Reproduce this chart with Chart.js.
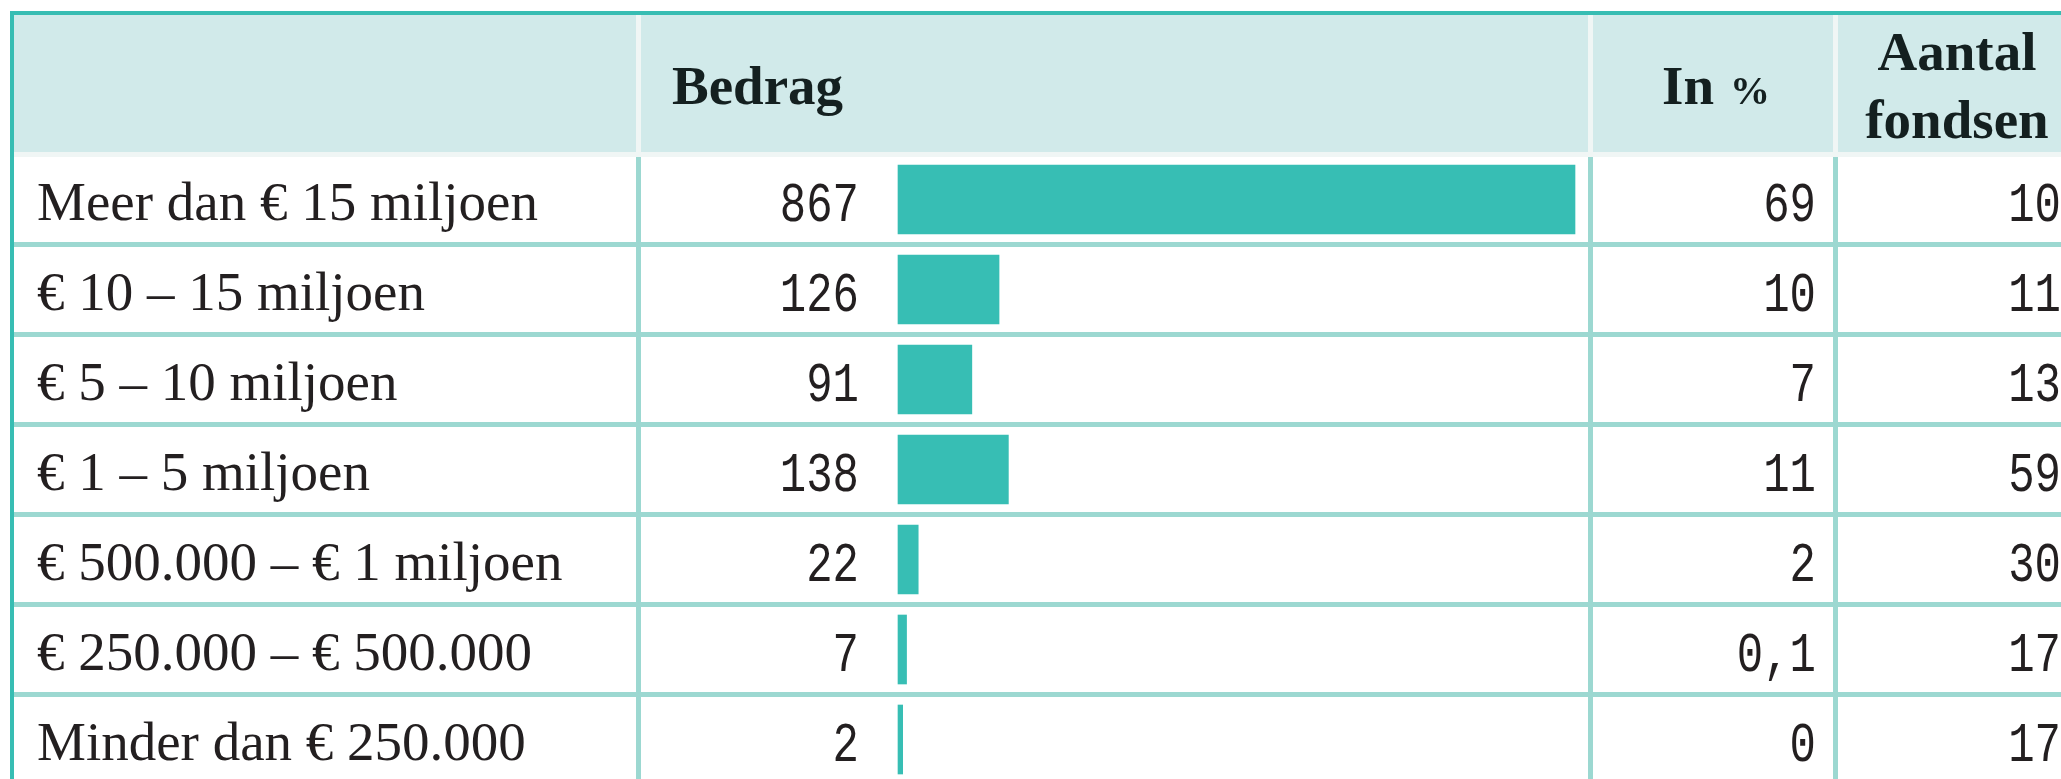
<!DOCTYPE html>
<html>
<head>
<meta charset="utf-8">
<script src="https://cdn.jsdelivr.net/npm/chart.js@4"></script>
<style>
  html, body { margin: 0; padding: 0; background: #fff; }
  canvas { display: block; }
</style>
</head>
<body>
<canvas id="fundsChart" width="2061" height="779"></canvas>
<script>
const categories = [
  "Meer dan € 15 miljoen",
  "€ 10 – 15 miljoen",
  "€ 5 – 10 miljoen",
  "€ 1 – 5 miljoen",
  "€ 500.000 – € 1 miljoen",
  "€ 250.000 – € 500.000",
  "Minder dan € 250.000"
];
const amounts = [867, 126, 91, 138, 22, 7, 2];
const percents = ["69", "10", "7", "11", "2", "0,1", "0"];
const funds = [10, 11, 13, 59, 30, 17, 17];
const headerAmount = "Bedrag";
const headerPercent = ["In", "%"];
const headerFunds = ["Aantal", "fondsen"];

const teal = "#37BEB4";
const lineColor = "#9CD8D1";
const headBg = "#D1EAEA";
const paleLine = "#F0F6F5";
const colLines = [636, 1588, 1833];

function monoText(ctx, text, xRight, yBase) {
  ctx.save();
  ctx.translate(xRight, yBase);
  ctx.scale(0.8, 1);
  ctx.textAlign = "right";
  ctx.textBaseline = "alphabetic";
  ctx.font = '55px "Liberation Mono"';
  ctx.fillText(text, 0, 0);
  ctx.restore();
}

const tablePlugin = {
  id: "tablePlugin",
  beforeDatasetsDraw(chart) {
    const ctx = chart.ctx;
    const yScale = chart.scales.y;
    const W = chart.width, H = chart.height;
    ctx.save();
    ctx.fillStyle = "#fff";
    ctx.fillRect(0, 0, W, H);

    // header band
    ctx.fillStyle = headBg;
    ctx.fillRect(14, 15, W - 14, 137);
    ctx.fillStyle = paleLine;
    ctx.fillRect(14, 152, W - 14, 5);
    colLines.forEach(x => ctx.fillRect(x, 15, 5, 137));

    // row separators
    ctx.fillStyle = lineColor;
    categories.forEach((c, i) => {
      const yc = yScale.getPixelForValue(i);
      ctx.fillRect(14, yc + 42.5, W - 14, 5);
    });
    colLines.forEach(x => ctx.fillRect(x, 157, 5, H - 157));

    // outer border
    ctx.fillStyle = "#37BDB3";
    ctx.fillRect(10, 11, W - 10, 4);
    ctx.fillRect(10, 11, 4, H - 11);
    ctx.restore();
  },
  afterDatasetsDraw(chart) {
    const ctx = chart.ctx;
    const yScale = chart.scales.y;
    ctx.save();

    // header texts
    ctx.fillStyle = "#142020";
    ctx.textBaseline = "alphabetic";
    ctx.textAlign = "left";
    ctx.font = 'bold 55px "Liberation Serif"';
    ctx.fillText(headerAmount, 672, 104);
    ctx.fillText(headerPercent[0], 1662, 104);
    ctx.font = 'bold 40px "Liberation Serif"';
    ctx.fillText(headerPercent[1], 1730, 104);
    ctx.font = 'bold 55px "Liberation Serif"';
    ctx.textAlign = "center";
    ctx.fillText(headerFunds[0], 1957, 70);
    ctx.fillText(headerFunds[1], 1957, 138);

    // rows
    ctx.fillStyle = "#231F20";
    categories.forEach((cat, i) => {
      const yc = yScale.getPixelForValue(i);
      ctx.textAlign = "left";
      ctx.font = '55px "Liberation Serif"';
      ctx.fillText(cat, 37, yc + 20.5);
      monoText(ctx, String(amounts[i]), 859, yc + 21.5);
      monoText(ctx, percents[i], 1816, yc + 21.5);
      monoText(ctx, String(funds[i]), 2061, yc + 21.5);
    });
    ctx.restore();
  }
};

const ctx = document.getElementById("fundsChart").getContext("2d");

const fundsChart = new Chart(ctx, {
  type: "bar",
  data: {
    labels: categories,
    datasets: [{
      label: "Bedrag",
      data: amounts,
      backgroundColor: teal,
      borderWidth: 0,
      barThickness: 69,
      base: -4,
      clip: false
    }]
  },
  options: {
    indexAxis: "y",
    responsive: false,
    animation: false,
    devicePixelRatio: 1,
    layout: {
      padding: { left: 898, right: 486, top: 199.5, bottom: 39.5 }
    },
    scales: {
      x: { type: "linear", min: -4, max: 867, display: false },
      y: { type: "category", offset: false, display: false }
    },
    plugins: {
      legend: { display: false },
      tooltip: { enabled: false }
    }
  },
  plugins: [tablePlugin]
});
</script>
</body>
</html>
